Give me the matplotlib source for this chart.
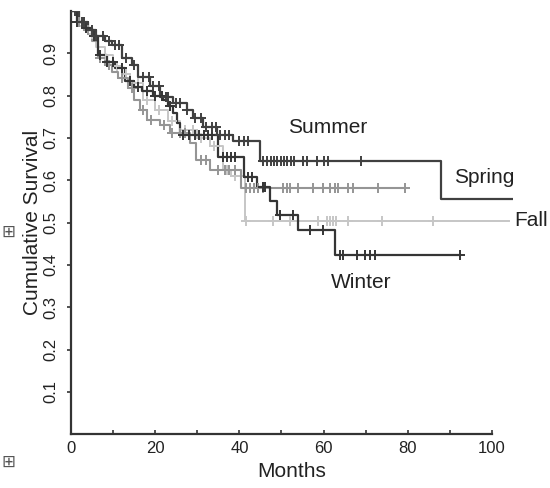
import numpy as np
import matplotlib.pyplot as plt

plt.rcParams['font.family'] = ['Liberation Sans', 'DejaVu Sans']

# step curves: event times (months) and survival after each step, plus last follow-up
summer_t = [0, 2, 4, 6, 8, 9.7, 12, 14.4, 16, 18.8, 21.1, 24.3, 27.5, 29, 31.4, 34.6, 38.5, 44.9, 88]
summer_s = [1.0, 0.975, 0.955, 0.94, 0.93, 0.92, 0.89, 0.873, 0.845, 0.822, 0.798, 0.782, 0.767, 0.747,
            0.727, 0.708, 0.692, 0.645, 0.556]
summer_end = 105
summer_cens = [1, 2.5, 3, 5, 6, 7.5, 9, 10.5, 11.5, 13, 15, 17, 18.5, 19.5, 21, 22.5, 23, 25, 26, 27.5,
               29.5, 31, 32, 33.5, 34.5, 35.5, 36.5, 37.5, 40, 41, 42, 45.5, 46.5, 47.5, 48.3, 49, 49.8,
               50.6, 51.4, 52.2, 53, 55, 56, 58.5, 60, 61, 69]

winter_t = [0, 1.5, 3, 5, 6.5, 8.5, 10.5, 12.8, 15, 16.8, 19.5, 21.9, 23, 24.3, 25.1, 25.9, 35, 41,
            44.1, 47.3, 48.9, 53.9, 62.7]
winter_s = [1.0, 0.975, 0.96, 0.94, 0.897, 0.88, 0.866, 0.834, 0.82, 0.81, 0.8, 0.79, 0.775, 0.759,
            0.735, 0.707, 0.656, 0.609, 0.585, 0.55, 0.518, 0.483, 0.424]
winter_end = 92.4
winter_cens = [1.5, 3.5, 5.5, 7, 8.5, 10, 12, 14, 16, 18, 20, 21.5, 23.5, 26.5, 28, 29.5, 30.5, 31.5,
               32.5, 33.5, 36, 37, 38, 39, 42, 43, 45.5, 46, 49.6, 52.7, 56.8, 59.9, 63.9, 64.6, 67.9,
               69.8, 71, 72.2, 92.4]

spring_t = [0, 1.5, 3, 5, 6.5, 8, 9.7, 11.2, 13.6, 15, 16.4, 18, 21.1, 23.5, 28.3, 29.8, 33, 40.5]
spring_s = [1.0, 0.975, 0.955, 0.93, 0.89, 0.873, 0.857, 0.842, 0.818, 0.79, 0.767, 0.743, 0.731,
            0.712, 0.688, 0.648, 0.625, 0.582]
spring_end = 79.3
spring_cens = [2, 4, 7, 9, 12, 14.5, 17, 19, 22, 24, 26, 27, 31, 32, 35, 36.5, 37.5, 39, 41.5, 42.5,
               43.5, 44.5, 45.6, 50.4, 51.3, 52, 53.9, 57.5, 59.9, 61.5, 62.7, 63.4, 65.8, 67, 72.9, 79.3]

fall_t = [0, 2, 4, 6, 8, 10, 12, 14, 17, 20, 23, 26, 30, 33, 36, 38, 41.3]
fall_s = [1.0, 0.965, 0.945, 0.915, 0.895, 0.87, 0.85, 0.83, 0.79, 0.765, 0.74, 0.72, 0.7, 0.68,
          0.625, 0.61, 0.503]
fall_end = 104
fall_cens = [1, 3, 5, 8, 11, 13, 16, 18, 21, 24, 27, 29, 31, 34, 37, 39, 41.5, 48, 52, 58.7, 60.8,
             61.5, 62.2, 63, 65.8, 73.9, 86]


def km_plot(ax, t, s, end, cens, color, lw):
    tt = list(t) + [end]
    ss = list(s) + [s[-1]]
    ax.step(tt, ss, where='post', color=color, linewidth=lw, zorder=3)
    idx = np.searchsorted(np.array(t), np.array(cens), side='right') - 1
    ax.plot(cens, np.array(s)[idx], linestyle='none', marker='+', markersize=7,
            markeredgewidth=1.4, color=color, zorder=4)


fig = plt.figure(figsize=(5.5, 4.88), dpi=100)
ax = fig.add_axes([71 / 550, (488 - 434.3) / 488, (513 - 71) / 550, (434.3 - 11) / 488])

km_plot(ax, fall_t, fall_s, fall_end, fall_cens, '#c6c6c6', 1.4)
km_plot(ax, spring_t, spring_s, spring_end, spring_cens, '#959595', 1.5)
km_plot(ax, winter_t, winter_s, winter_end, winter_cens, '#353535', 1.6)
km_plot(ax, summer_t, summer_s, summer_end, summer_cens, '#404040', 1.6)

ax.set_xlim(0, 105)
ax.set_ylim(0, 1.0)
ax.spines['top'].set_visible(False)
ax.spines['right'].set_visible(False)
ax.spines['bottom'].set_bounds(0, 100)
for sp in ('left', 'bottom'):
    ax.spines[sp].set_linewidth(1.6)
    ax.spines[sp].set_color('#333333')

ax.set_xticks([0, 20, 40, 60, 80, 100])
ax.set_xticks([10, 30, 50, 70, 90], minor=True)
ax.set_yticks([0.1, 0.2, 0.3, 0.4, 0.5, 0.6, 0.7, 0.8, 0.9])
ax.tick_params(axis='x', direction='in', length=3, width=1.2, labelsize=12, pad=5, colors='#333333',
               labelcolor='#222222')
ax.tick_params(axis='x', which='minor', direction='in', length=3, width=1.2, colors='#333333')
ax.tick_params(axis='y', direction='out', length=3, width=1.2, labelsize=12, pad=6, colors='#333333',
               labelcolor='#222222')
for lab in ax.get_yticklabels():
    lab.set_rotation(90)
    lab.set_va('center')

ax.set_xlabel('Months', fontsize=15, color='#222222', labelpad=4)
ax.set_ylabel('Cumulative Survival', fontsize=15, color='#222222', labelpad=1)

ax.text(60.9, 0.725, 'Summer', fontsize=15, color='#222222', ha='center', va='center', clip_on=False)
ax.text(91, 0.607, 'Spring', fontsize=15, color='#222222', ha='left', va='center', clip_on=False)
ax.text(105.3, 0.505, 'Fall', fontsize=15, color='#222222', ha='left', va='center', clip_on=False)
ax.text(69, 0.358, 'Winter', fontsize=15, color='#222222', ha='center', va='center', clip_on=False)

# small boxed-plus glyphs at the left margin
fig.text(8 / 550, 1 - 232 / 488, '\u229e', fontsize=12, color='#555555', ha='center', va='center',
         family='DejaVu Sans')
fig.text(8 / 550, 1 - 462 / 488, '\u229e', fontsize=12, color='#555555', ha='center', va='center',
         family='DejaVu Sans')

fig.savefig('out.png', dpi=100)
